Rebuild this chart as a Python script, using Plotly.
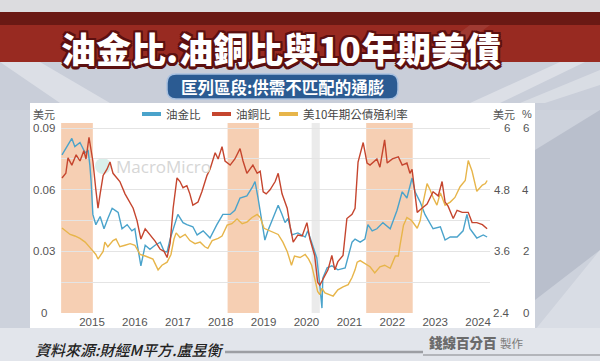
import plotly.graph_objects as go
import pandas as pd

# ---------------- data ----------------
# Oil / gold ratio (USD, left axis)
oil_gold_t = [2014.30, 2014.39, 2014.53, 2014.60, 2014.72, 2014.84, 2014.91, 2014.95, 2014.98,
              2015.02, 2015.09, 2015.19, 2015.28, 2015.37, 2015.47, 2015.54, 2015.61, 2015.70, 2015.82, 2015.93,
              2016.00, 2016.05, 2016.14, 2016.24, 2016.35, 2016.47, 2016.59, 2016.68, 2016.75, 2016.82, 2016.89,
              2017.00, 2017.12, 2017.21, 2017.35, 2017.45, 2017.59, 2017.75, 2017.91,
              2018.05, 2018.22, 2018.33, 2018.45, 2018.61, 2018.73, 2018.80, 2018.87, 2018.96,
              2019.03, 2019.10, 2019.20, 2019.34, 2019.43, 2019.50, 2019.57, 2019.66, 2019.80, 2019.97,
              2020.03, 2020.15, 2020.24, 2020.31, 2020.36, 2020.38, 2020.48, 2020.59, 2020.73, 2020.90, 2020.97,
              2021.06, 2021.13, 2021.25, 2021.36, 2021.43, 2021.53, 2021.64, 2021.78, 2021.95,
              2022.11, 2022.23, 2022.34, 2022.46, 2022.53, 2022.65, 2022.76, 2022.88, 2022.95,
              2023.12, 2023.23, 2023.35, 2023.51, 2023.65, 2023.74, 2023.81, 2023.97,
              2024.12, 2024.21]
oil_gold_v = [0.077, 0.080, 0.085, 0.081, 0.083, 0.078, 0.079, 0.072, 0.064,
              0.048, 0.043, 0.047, 0.041, 0.046, 0.051, 0.050, 0.049, 0.041, 0.043, 0.040,
              0.041, 0.034, 0.023, 0.033, 0.031, 0.033, 0.0345, 0.030, 0.0297, 0.036, 0.041,
              0.048, 0.044, 0.043, 0.042, 0.038, 0.040, 0.0365, 0.043,
              0.048, 0.048, 0.050, 0.056, 0.057, 0.061, 0.064, 0.056, 0.044,
              0.0355, 0.040, 0.045, 0.0525, 0.048, 0.044, 0.046, 0.038, 0.039, 0.037,
              0.040, 0.033, 0.0268, 0.0136, 0.0024, 0.017, 0.022, 0.023, 0.021, 0.022, 0.027,
              0.0345, 0.036, 0.0345, 0.036, 0.043, 0.040, 0.041, 0.044, 0.041,
              0.050, 0.059, 0.056, 0.0657, 0.059, 0.054, 0.048, 0.044, 0.041,
              0.042, 0.0355, 0.037, 0.037, 0.040, 0.048, 0.041, 0.0365,
              0.038, 0.037]

# Oil / copper ratio (USD, right "美元" axis 2.4 - 6)
oil_copper_t = [2014.30, 2014.39, 2014.44, 2014.53, 2014.63, 2014.72, 2014.81, 2014.86, 2014.93, 2014.98,
                2015.02, 2015.09, 2015.14, 2015.19, 2015.26, 2015.35, 2015.42, 2015.49, 2015.58, 2015.65, 2015.77, 2015.89, 2015.96,
                2016.05, 2016.14, 2016.24, 2016.35, 2016.47, 2016.59, 2016.68, 2016.75, 2016.82, 2016.89, 2016.98,
                2017.05, 2017.12, 2017.21, 2017.28, 2017.35, 2017.47, 2017.56, 2017.68, 2017.75, 2017.87, 2017.94,
                2018.03, 2018.10, 2018.22, 2018.33, 2018.45, 2018.52, 2018.61, 2018.75, 2018.85, 2018.92, 2018.99,
                2019.06, 2019.15, 2019.27, 2019.34, 2019.43, 2019.55, 2019.62, 2019.69, 2019.80, 2019.90,
                2020.01, 2020.08, 2020.19, 2020.26, 2020.31, 2020.43, 2020.50, 2020.59, 2020.66, 2020.73, 2020.85, 2020.94,
                2021.06, 2021.13, 2021.20, 2021.32, 2021.41, 2021.48, 2021.64, 2021.71, 2021.82, 2021.88,
                2022.00, 2022.14, 2022.23, 2022.34, 2022.41, 2022.46, 2022.49, 2022.58, 2022.69, 2022.81, 2022.95,
                2023.07, 2023.16, 2023.23, 2023.30, 2023.42, 2023.51, 2023.63, 2023.77, 2023.86, 2023.97,
                2024.10, 2024.21]
oil_copper_v = [5.03, 5.12, 5.42, 5.28, 5.48, 5.36, 5.56, 5.40, 5.82, 5.60,
                5.36, 4.80, 4.44, 4.72, 5.08, 5.20, 5.34, 5.12, 5.04, 4.96, 4.72, 4.56, 4.44,
                4.20, 3.84, 4.04, 3.92, 3.80, 3.64, 3.60, 3.48, 3.76, 4.44, 5.03,
                4.96, 4.84, 4.88, 4.72, 4.50, 4.56, 4.76, 5.08, 5.20, 5.52, 5.40,
                5.64, 5.36, 5.28, 5.40, 5.60, 5.36, 5.12, 5.28, 5.12, 5.16, 4.76,
                4.72, 4.80, 4.96, 5.12, 4.72, 4.44, 4.08, 3.78, 3.92, 3.90,
                4.16, 3.84, 3.52, 3.00, 2.94, 3.12, 3.24, 3.52, 3.24, 3.40, 3.52, 4.24,
                4.32, 4.44, 5.34, 5.72, 5.32, 5.28, 5.40, 5.24, 5.77, 5.32,
                5.40, 5.44, 5.28, 5.32, 5.12, 5.20, 4.96, 4.36, 4.44, 4.52, 4.76,
                4.68, 4.96, 4.56, 4.48, 4.24, 4.40, 4.36, 4.36, 4.16, 4.16,
                4.12, 4.04]

# US 10-year Treasury yield (%, right "%" axis)
yield_t = [2014.30, 2014.39, 2014.49, 2014.60, 2014.72, 2014.84, 2014.91,
           2015.00, 2015.09, 2015.14, 2015.26, 2015.30, 2015.37, 2015.49, 2015.56, 2015.65, 2015.77, 2015.89,
           2016.00, 2016.12, 2016.24, 2016.35, 2016.42, 2016.54, 2016.63, 2016.75, 2016.84, 2016.91, 2016.96,
           2017.05, 2017.17, 2017.28, 2017.40, 2017.52, 2017.63, 2017.70, 2017.80, 2017.94,
           2018.03, 2018.15, 2018.26, 2018.38, 2018.50, 2018.61, 2018.73, 2018.85, 2018.92,
           2019.01, 2019.10, 2019.20, 2019.34, 2019.45, 2019.55, 2019.65, 2019.72, 2019.85, 2019.97,
           2020.05, 2020.12, 2020.19, 2020.26, 2020.31, 2020.36, 2020.43, 2020.55, 2020.62, 2020.73, 2020.85, 2020.97,
           2021.06, 2021.13, 2021.18, 2021.25, 2021.36, 2021.48, 2021.59, 2021.71, 2021.82, 2021.95,
           2022.07, 2022.14, 2022.18, 2022.26, 2022.34, 2022.45, 2022.58, 2022.65, 2022.72, 2022.81, 2022.88, 2022.95,
           2023.04, 2023.12, 2023.23, 2023.35, 2023.46, 2023.58, 2023.70, 2023.77, 2023.86, 2023.97,
           2024.10, 2024.17, 2024.21]
yield_v = [2.76, 2.65, 2.55, 2.50, 2.42, 2.30, 2.20,
           2.05, 1.90, 1.75, 2.00, 2.30, 2.15, 2.35, 2.40, 2.15, 2.20, 2.25,
           2.20, 1.90, 1.85, 1.80, 1.75, 1.40, 1.55, 1.65, 1.90, 2.40, 2.60,
           2.45, 2.55, 2.35, 2.25, 2.30, 2.15, 2.10, 2.35, 2.42,
           2.50, 2.85, 2.90, 3.05, 2.90, 2.95, 3.10, 3.20, 3.10,
           2.75, 2.70, 2.65, 2.55, 2.30, 2.00, 1.55, 1.85, 1.80, 1.90,
           1.75, 1.55, 1.13, 0.70, 0.60, 0.80, 0.65, 0.60, 0.55, 0.75, 0.85, 0.92,
           1.15, 1.40, 1.65, 1.70, 1.60, 1.50, 1.30, 1.50, 1.55, 1.45,
           1.85, 1.85, 2.20, 2.85, 3.10, 3.00, 2.75, 3.00, 3.60, 4.20, 4.00, 3.75,
           3.50, 3.90, 3.50, 3.60, 3.75, 4.10, 4.30, 4.95, 4.60, 3.95,
           4.15, 4.20, 4.30]

highlight_periods = [(2014.28, 2015.02), (2018.16, 2018.89), (2021.39, 2022.475)]
recession_period = (2020.12, 2020.31)

left_ticks = [0, 0.03, 0.06, 0.09]
left_labels = ["0", "0.03", "0.06", "0.09"]
usd_right_labels = ["2.4", "3.6", "4.8", "6"]
pct_right_labels = ["0", "2", "4", "6"]
series_names = ["油金比", "油銅比", "美10年期公債殖利率"]

assert len(oil_gold_t) == len(oil_gold_v)
assert len(oil_copper_t) == len(oil_copper_v)
assert len(yield_t) == len(yield_v)


def to_date(y):
    yr = int(y)
    start = pd.Timestamp(yr, 1, 1)
    end = pd.Timestamp(yr + 1, 1, 1)
    return start + (end - start) * (y - yr)


# ---------------- layout geometry (pixels) ----------------
W, H = 600, 361
PL, PR, PT, PB = 61, 490, 123, 313


def fx(px):
    return (px - PL) / (PR - PL)


def fy(py):
    return (PB - py) / (PB - PT)


BLUE = "#4aa3cb"
RED = "#c5452e"
GOLD = "#e7b54a"
CJK = "Noto Sans CJK TC, Noto Sans, sans-serif"
NUM = "Liberation Sans, Arial, sans-serif"

fig = go.Figure()
fig.add_trace(go.Scatter(x=[to_date(t) for t in yield_t], y=yield_v, yaxis="y2",
                         mode="lines", line=dict(color=GOLD, width=1.4), name=series_names[2]))
fig.add_trace(go.Scatter(x=[to_date(t) for t in oil_copper_t], y=oil_copper_v, yaxis="y3",
                         mode="lines", line=dict(color=RED, width=1.4), name=series_names[1]))
fig.add_trace(go.Scatter(x=[to_date(t) for t in oil_gold_t], y=oil_gold_v, yaxis="y",
                         mode="lines", line=dict(color=BLUE, width=1.4), name=series_names[0]))

shapes = []


def rect(x0, y0, x1, y1, color, line=None):
    d = dict(type="rect", xref="paper", yref="paper", x0=fx(x0), x1=fx(x1), y0=fy(y1), y1=fy(y0),
             fillcolor=color, layer="below", line=dict(width=0))
    if line:
        d["line"] = line
    shapes.append(d)


def poly(points, color):
    path = "M " + " L ".join(f"{fx(a):.4f},{fy(b):.4f}" for a, b in points) + " Z"
    shapes.append(dict(type="path", xref="paper", yref="paper", path=path, fillcolor=color,
                       layer="below", line=dict(width=0)))


# background
rect(0, 0, W, H, "#cdd2dc")
poly([(0, 62), (600, 62), (600, 110), (0, 110)], "#c9ced9")
poly([(0, 62), (40, 62), (110, 103), (60, 103)], "rgba(255,255,255,0.35)")
poly([(470, 103), (560, 62), (585, 62), (500, 103)], "rgba(255,255,255,0.35)")
poly([(520, 103), (600, 70), (600, 85), (545, 103)], "rgba(255,255,255,0.3)")
poly([(535, 150), (600, 110), (600, 250), (535, 300)], "#b9bfcc")
poly([(535, 330), (600, 250), (600, 361), (535, 361)], "rgba(255,255,255,0.25)")
rect(0, 328, W, H, "#e2e5eb")
rect(0, 0, W, 12, "#dcdcdf")
rect(0, 12, W, 25, "#6a1914")
rect(0, 25, W, 62, "#982a21")
poly([(420, 62), (470, 25), (490, 25), (440, 62)], "rgba(255,255,255,0.08)")
# subtitle pill
r = 9
x0p, x1p, y0p, y1p = 167, 398, 74, 99
pill = (f"M {fx(x0p + r)},{fy(y0p)} L {fx(x1p - r)},{fy(y0p)} Q {fx(x1p)},{fy(y0p)} {fx(x1p)},{fy(y0p + r)} "
        f"L {fx(x1p)},{fy(y1p - r)} Q {fx(x1p)},{fy(y1p)} {fx(x1p - r)},{fy(y1p)} "
        f"L {fx(x0p + r)},{fy(y1p)} Q {fx(x0p)},{fy(y1p)} {fx(x0p)},{fy(y1p - r)} "
        f"L {fx(x0p)},{fy(y0p + r)} Q {fx(x0p)},{fy(y0p)} {fx(x0p + r)},{fy(y0p)} Z")
shapes.append(dict(type="path", xref="paper", yref="paper", path=pill, fillcolor="#2b5b92",
                   line=dict(color="#a9c1e0", width=1.5), layer="below"))
# chart panel
rect(30, 103, 535, 328, "#ffffff")
# footer lines
shapes.append(dict(type="line", xref="paper", yref="paper", x0=fx(225), x1=fx(423), y0=fy(352), y1=fy(352),
                   line=dict(color="#9c9ea3", width=2.5), layer="below"))
shapes.append(dict(type="line", xref="paper", yref="paper", x0=fx(423), x1=fx(600), y0=fy(355), y1=fy(355),
                   line=dict(color="#b3b5ba", width=2), layer="below"))

# shaded periods
for a, b in highlight_periods:
    shapes.append(dict(type="rect", xref="x", yref="paper", x0=to_date(a), x1=to_date(b), y0=0, y1=1,
                       fillcolor="#f6cfb3", line=dict(width=0), layer="below"))
shapes.append(dict(type="rect", xref="x", yref="paper", x0=to_date(recession_period[0]),
                   x1=to_date(recession_period[1]), y0=0, y1=1,
                   fillcolor="#ebebeb", line=dict(width=0), layer="below"))

# watermark logo circle
shapes.append(dict(type="circle", xref="paper", yref="paper", x0=fx(95), x1=fx(111), y0=fy(174), y1=fy(158),
                   fillcolor="rgba(170,220,210,0.45)", line=dict(width=0), layer="below"))

# legend swatches
legend_items = [(142, 161, 164, BLUE), (212, 231, 234, RED), (279, 298, 301, GOLD)]
for (a, b, _, c) in legend_items:
    shapes.append(dict(type="line", xref="paper", yref="paper", x0=fx(a), x1=fx(b), y0=fy(114), y1=fy(114),
                       line=dict(color=c, width=4)))

ann = []
outline = "#5c1010"
sh = ", ".join(f"{dx}px {dy}px 0 {outline}" for dx, dy in
               [(-2, -2), (2, -2), (-2, 2), (2, 2), (0, 2), (0, -2), (2, 0), (-2, 0), (0, 3), (1, 3), (-1, 3)])
ann.append(dict(text="油金比.油銅比與10年期美債", x=fx(281), y=fy(47), xref="paper", yref="paper",
                xanchor="center", yanchor="middle", showarrow=False,
                font=dict(family=CJK, size=35, color="#ffffff", weight=900, shadow=sh)))
ann.append(dict(text="匡列區段:供需不匹配的通膨", x=fx(282.5), y=fy(86.5), xref="paper", yref="paper",
                xanchor="center", yanchor="middle", showarrow=False,
                font=dict(family=CJK, size=16.5, color="#ffffff", weight=700)))

for (a, b, tx, c), nm in zip(legend_items, series_names):
    ann.append(dict(text=nm, x=fx(tx), y=fy(114), xref="paper", yref="paper", xanchor="left",
                    yanchor="middle", showarrow=False, font=dict(family=CJK, size=11.5, color="#444")))

# axis headers
ann.append(dict(text="美元", x=fx(44), y=fy(114), xref="paper", yref="paper", xanchor="center", yanchor="middle",
                showarrow=False, font=dict(family=CJK, size=11, color="#555")))
ann.append(dict(text="美元", x=fx(503.5), y=fy(114), xref="paper", yref="paper", xanchor="center", yanchor="middle",
                showarrow=False, font=dict(family=CJK, size=11, color="#555")))
ann.append(dict(text="%", x=fx(527), y=fy(114), xref="paper", yref="paper", xanchor="center", yanchor="middle",
                showarrow=False, font=dict(family=NUM, size=11, color="#555")))

for v, l1, l2, l3 in zip(left_ticks, left_labels, usd_right_labels, pct_right_labels):
    ann.append(dict(text=l1, x=fx(44), y=v, xref="paper", yref="y", xanchor="center", yanchor="middle",
                    showarrow=False, font=dict(family=NUM, size=11.5, color="#555")))
    ann.append(dict(text=l2, x=fx(512), y=v, xref="paper", yref="y", xanchor="right", yanchor="middle",
                    showarrow=False, font=dict(family=NUM, size=11.5, color="#555")))
    ann.append(dict(text=l3, x=fx(531), y=v, xref="paper", yref="y", xanchor="right", yanchor="middle",
                    showarrow=False, font=dict(family=NUM, size=11.5, color="#555")))

# watermark text
ann.append(dict(text="MacroMicro", x=fx(114), y=fy(166), xref="paper", yref="paper", xanchor="left",
                yanchor="middle", showarrow=False, font=dict(family="Open Sans, sans-serif", size=17, color="#d6d6d6")))

# footer
ann.append(dict(text="資料來源:財經M平方.盧昱衡", x=fx(33), y=fy(349), xref="paper", yref="paper",
                xanchor="left", yanchor="middle", showarrow=False,
                font=dict(family=CJK, size=15, color="#222", style="italic", weight=500)))
ann.append(dict(text="錢線百分百", x=fx(427), y=fy(342), xref="paper", yref="paper",
                xanchor="left", yanchor="middle", showarrow=False,
                font=dict(family=CJK, size=13.5, color="#6b6b6b", weight=900)))
ann.append(dict(text="製作", x=fx(498), y=fy(343), xref="paper", yref="paper",
                xanchor="left", yanchor="middle", showarrow=False,
                font=dict(family=CJK, size=11.5, color="#7a7a7a")))

x_range = [to_date(2014.277), to_date(2024.277)]

fig.update_layout(
    width=W, height=H, autosize=False,
    margin=dict(l=PL, r=W - PR, t=PT, b=H - PB, pad=0),
    paper_bgcolor="#cdd2dc", plot_bgcolor="rgba(0,0,0,0)",
    showlegend=False,
    shapes=shapes, annotations=ann,
    xaxis=dict(type="date", range=x_range, tickformat="%Y", dtick="M12", tick0="2015-01-01",
               showgrid=False, zeroline=False, showline=False, ticks="",
               tickfont=dict(family=NUM, size=11.5, color="#555")),
    yaxis=dict(range=[0, 0.0925], tickvals=[0.015 * i for i in range(7)], showticklabels=False,
               gridcolor="#e4e4e4", gridwidth=1, zeroline=False, showline=False, ticks=""),
    yaxis2=dict(range=[0, 0.0925 / 0.09 * 6], overlaying="y", side="right", showgrid=False,
                showticklabels=False, zeroline=False, showline=False, ticks=""),
    yaxis3=dict(range=[2.4, 2.4 + 0.0925 * 40], overlaying="y", side="right", showgrid=False,
                showticklabels=False, zeroline=False, showline=False, ticks=""),
)

fig.write_html("out.html", config={"displayModeBar": False},
               post_script="document.body.style.margin='0';document.body.style.padding='0';"
                           "document.body.style.overflow='hidden';document.body.style.background='#cdd2dc';")
